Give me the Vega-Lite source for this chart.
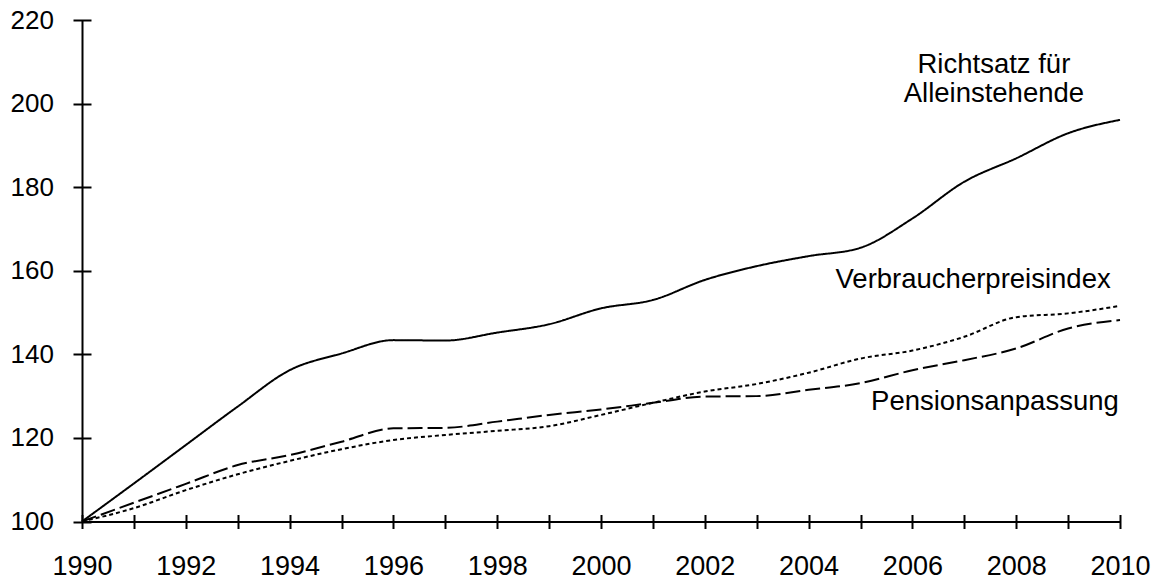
{
  "$schema": "https://vega.github.io/schema/vega-lite/v6.json",
  "width": 1038,
  "height": 501.5,
  "autosize": "none",
  "padding": {"left": 82, "top": 20, "right": 41, "bottom": 59.5},
  "background": "white",
  "config": {"view": {"stroke": null}, "font": "Liberation Sans"},
  "datasets": {
    "series": [
      {"year": 1990, "value": 100, "series": "Richtsatz"},
      {"year": 1991, "value": 109.1, "series": "Richtsatz"},
      {"year": 1992, "value": 118.3, "series": "Richtsatz"},
      {"year": 1993, "value": 127.5, "series": "Richtsatz"},
      {"year": 1994, "value": 136.2, "series": "Richtsatz"},
      {"year": 1995, "value": 140.2, "series": "Richtsatz"},
      {"year": 1996, "value": 143.4, "series": "Richtsatz"},
      {"year": 1997, "value": 143.3, "series": "Richtsatz"},
      {"year": 1998, "value": 145.2, "series": "Richtsatz"},
      {"year": 1999, "value": 147.2, "series": "Richtsatz"},
      {"year": 2000, "value": 151.0, "series": "Richtsatz"},
      {"year": 2001, "value": 153.0, "series": "Richtsatz"},
      {"year": 2002, "value": 157.8, "series": "Richtsatz"},
      {"year": 2003, "value": 161.1, "series": "Richtsatz"},
      {"year": 2004, "value": 163.5, "series": "Richtsatz"},
      {"year": 2005, "value": 165.5, "series": "Richtsatz"},
      {"year": 2006, "value": 172.5, "series": "Richtsatz"},
      {"year": 2007, "value": 181.3, "series": "Richtsatz"},
      {"year": 2008, "value": 186.9, "series": "Richtsatz"},
      {"year": 2009, "value": 192.9, "series": "Richtsatz"},
      {"year": 2010, "value": 196.1, "series": "Richtsatz"},
      {"year": 1990, "value": 100, "series": "VPI"},
      {"year": 1991, "value": 103.2, "series": "VPI"},
      {"year": 1992, "value": 107.5, "series": "VPI"},
      {"year": 1993, "value": 111.3, "series": "VPI"},
      {"year": 1994, "value": 114.5, "series": "VPI"},
      {"year": 1995, "value": 117.3, "series": "VPI"},
      {"year": 1996, "value": 119.5, "series": "VPI"},
      {"year": 1997, "value": 120.7, "series": "VPI"},
      {"year": 1998, "value": 121.7, "series": "VPI"},
      {"year": 1999, "value": 122.8, "series": "VPI"},
      {"year": 2000, "value": 125.5, "series": "VPI"},
      {"year": 2001, "value": 128.4, "series": "VPI"},
      {"year": 2002, "value": 131.1, "series": "VPI"},
      {"year": 2003, "value": 132.9, "series": "VPI"},
      {"year": 2004, "value": 135.6, "series": "VPI"},
      {"year": 2005, "value": 139.0, "series": "VPI"},
      {"year": 2006, "value": 140.9, "series": "VPI"},
      {"year": 2007, "value": 144.2, "series": "VPI"},
      {"year": 2008, "value": 148.9, "series": "VPI"},
      {"year": 2009, "value": 149.8, "series": "VPI"},
      {"year": 2010, "value": 151.6, "series": "VPI"},
      {"year": 1990, "value": 100, "series": "Pension"},
      {"year": 1991, "value": 104.5, "series": "Pension"},
      {"year": 1992, "value": 109.0, "series": "Pension"},
      {"year": 1993, "value": 113.5, "series": "Pension"},
      {"year": 1994, "value": 115.9, "series": "Pension"},
      {"year": 1995, "value": 119.1, "series": "Pension"},
      {"year": 1996, "value": 122.3, "series": "Pension"},
      {"year": 1997, "value": 122.4, "series": "Pension"},
      {"year": 1998, "value": 123.9, "series": "Pension"},
      {"year": 1999, "value": 125.5, "series": "Pension"},
      {"year": 2000, "value": 126.8, "series": "Pension"},
      {"year": 2001, "value": 128.4, "series": "Pension"},
      {"year": 2002, "value": 129.9, "series": "Pension"},
      {"year": 2003, "value": 130.0, "series": "Pension"},
      {"year": 2004, "value": 131.5, "series": "Pension"},
      {"year": 2005, "value": 133.1, "series": "Pension"},
      {"year": 2006, "value": 136.2, "series": "Pension"},
      {"year": 2007, "value": 138.6, "series": "Pension"},
      {"year": 2008, "value": 141.4, "series": "Pension"},
      {"year": 2009, "value": 146.2, "series": "Pension"},
      {"year": 2010, "value": 148.2, "series": "Pension"}
    ],
    "labels": [
      {"year": 2007.57, "value": 207.2, "text": "Richtsatz für\nAlleinstehende"},
      {"year": 2007.17, "value": 155.8, "text": "Verbraucherpreisindex"},
      {"year": 2007.59, "value": 126.7, "text": "Pensionsanpassung"}
    ]
  },
  "resolve": {"axis": {"x": "independent", "y": "independent"}},
  "layer": [
    {
      "data": {"name": "series"},
      "mark": {"type": "line", "interpolate": "monotone", "color": "black", "strokeWidth": 2},
      "encoding": {
        "x": {
          "field": "year", "type": "quantitative",
          "scale": {"domain": [1990, 2010], "nice": false, "zero": false},
          "axis": {
            "orient": "bottom", "values": [1990, 1992, 1994, 1996, 1998, 2000, 2002, 2004, 2006, 2008, 2010],
            "format": "d", "ticks": false, "tickSize": 0, "labelPadding": 32,
            "labelFontSize": 27, "labelColor": "black", "labelFont": "Liberation Sans",
            "labelFlush": false, "labelOverlap": false, "labelBaseline": "top",
            "domainColor": "black", "domainWidth": 2, "grid": false, "title": null
          }
        },
        "y": {
          "field": "value", "type": "quantitative",
          "scale": {"domain": [100, 220], "nice": false, "zero": false},
          "axis": {
            "orient": "left", "values": [100, 120, 140, 160, 180, 200, 220],
            "ticks": false, "tickSize": 0, "labelPadding": 28.5,
            "labelFontSize": 26, "labelColor": "black", "labelFont": "Liberation Sans",
            "labelFlush": false, "labelOverlap": false,
            "domainColor": "black", "domainWidth": 2, "grid": false, "title": null
          }
        },
        "strokeDash": {
          "field": "series", "type": "nominal",
          "scale": {"domain": ["Richtsatz", "VPI", "Pension"], "range": [[1, 0], [4, 3], [15, 5]]},
          "legend": null
        }
      }
    },
    {
      "data": {"name": "labels"},
      "mark": {"type": "text", "align": "center", "baseline": "alphabetic", "fontSize": 27.5, "font": "Liberation Sans", "color": "black", "lineBreak": "\n", "lineHeight": 28.4},
      "encoding": {
        "x": {
          "field": "year", "type": "quantitative",
          "scale": {"domain": [1990, 2010], "nice": false, "zero": false},
          "axis": {
            "orient": "bottom", "offset": -7,
            "values": [1990, 1991, 1992, 1993, 1994, 1995, 1996, 1997, 1998, 1999, 2000, 2001, 2002, 2003, 2004, 2005, 2006, 2007, 2008, 2009, 2010],
            "labels": false, "domain": false, "grid": false, "title": null,
            "tickSize": 14, "tickColor": "black", "tickWidth": 2
          }
        },
        "y": {
          "field": "value", "type": "quantitative",
          "scale": {"domain": [100, 220], "nice": false, "zero": false},
          "axis": {
            "orient": "left", "offset": -9,
            "values": [100, 120, 140, 160, 180, 200, 220],
            "labels": false, "domain": false, "grid": false, "title": null,
            "tickSize": 18, "tickColor": "black", "tickWidth": 2
          }
        },
        "text": {"field": "text"}
      }
    }
  ]
}
